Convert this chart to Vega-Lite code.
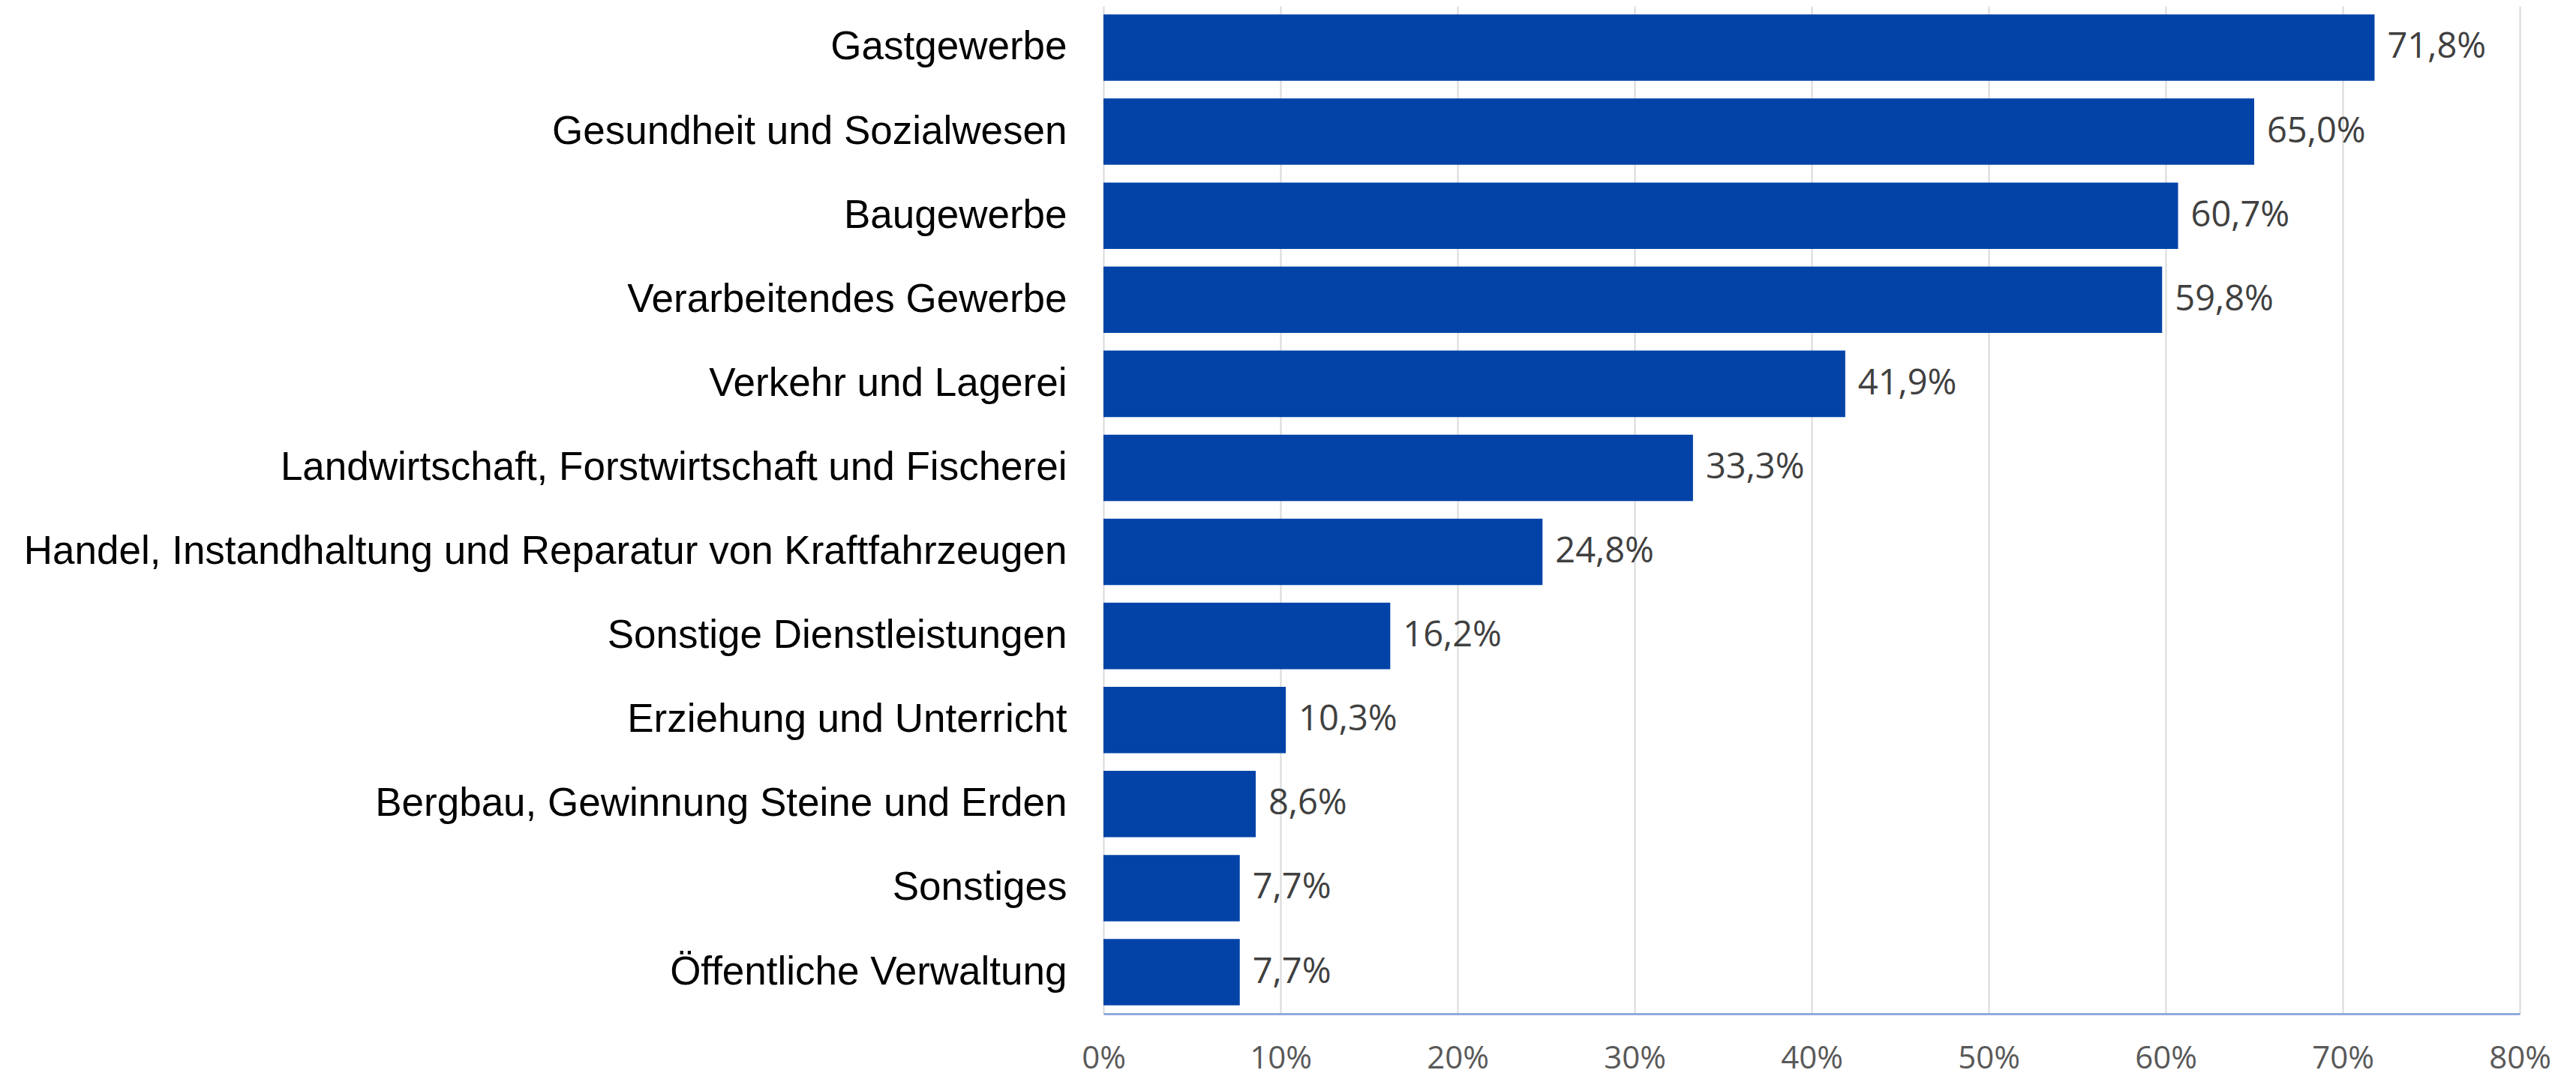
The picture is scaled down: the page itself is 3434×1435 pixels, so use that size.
{
  "$schema": "https://vega.github.io/schema/vega-lite/v6.json",
  "autosize": {"type": "none"},
  "width": 1888,
  "height": 1344,
  "padding": {"left": 1471, "top": 8, "right": 75, "bottom": 83},
  "background": "white",
  "config": {
    "view": {"stroke": null},
    "locale": {"number": {"decimal": ",", "thousands": ".", "grouping": [3], "currency": ["", " €"]}}
  },
  "data": {
    "values": [
      {"branche": "Gastgewerbe", "anteil": 0.718},
      {"branche": "Gesundheit und Sozialwesen", "anteil": 0.650},
      {"branche": "Baugewerbe", "anteil": 0.607},
      {"branche": "Verarbeitendes Gewerbe", "anteil": 0.598},
      {"branche": "Verkehr und Lagerei", "anteil": 0.419},
      {"branche": "Landwirtschaft, Forstwirtschaft und Fischerei", "anteil": 0.333},
      {"branche": "Handel, Instandhaltung und Reparatur von Kraftfahrzeugen", "anteil": 0.248},
      {"branche": "Sonstige Dienstleistungen", "anteil": 0.162},
      {"branche": "Erziehung und Unterricht", "anteil": 0.103},
      {"branche": "Bergbau, Gewinnung Steine und Erden", "anteil": 0.086},
      {"branche": "Sonstiges", "anteil": 0.077},
      {"branche": "Öffentliche Verwaltung", "anteil": 0.077}
    ]
  },
  "encoding": {
    "y": {
      "field": "branche", "type": "nominal", "sort": null, "title": null,
      "scale": {"paddingInner": 0.21, "paddingOuter": 0.1},
      "axis": {
        "domain": false, "ticks": false, "grid": false,
        "labelFont": "Liberation Sans", "labelFontSize": 53, "labelColor": "#000000",
        "labelPadding": 49, "labelLimit": 3000
      }
    },
    "x": {
      "field": "anteil", "type": "quantitative", "title": null,
      "scale": {"domain": [0, 0.8], "nice": false},
      "axis": {
        "values": [0, 0.1, 0.2, 0.3, 0.4, 0.5, 0.6, 0.7, 0.8],
        "format": ".0%",
        "grid": true, "gridColor": "#d9d9d9", "gridWidth": 2,
        "domain": true, "domainColor": "#8faadc", "domainWidth": 3,
        "ticks": false,
        "labelFont": "Open Sans", "labelFontSize": 42, "labelColor": "#595959",
        "labelPadding": 39, "labelFlush": false
      }
    }
  },
  "layer": [
    {"mark": {"type": "bar", "color": "#0343a8"}},
    {
      "mark": {"type": "text", "align": "left", "baseline": "middle", "dx": 17, "font": "Open Sans", "fontSize": 47, "color": "#404040"},
      "encoding": {"text": {"field": "anteil", "type": "quantitative", "format": ".1%"}}
    }
  ]
}
